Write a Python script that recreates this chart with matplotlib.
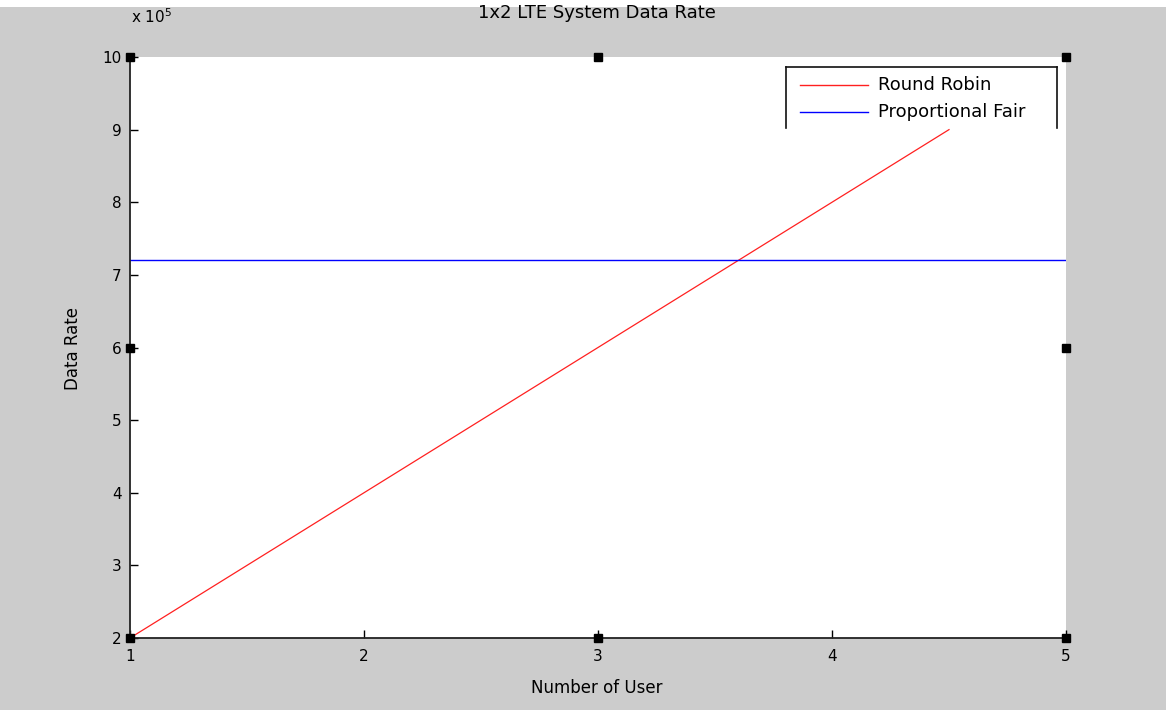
import matplotlib
matplotlib.use("Agg")
import matplotlib.pyplot as plt
from matplotlib.lines import Line2D

# curvas de tasa de datos
users_rr = [1, 4.5]
rate_rr = [2e5, 9e5]
users_pf = [1, 5]
rate_pf = [7.2e5, 7.2e5]
series_names = ["Round Robin", "Proportional Fair"]

x_ticks = [1, 2, 3, 4, 5]
y_ticks = [2e5, 3e5, 4e5, 5e5, 6e5, 7e5, 8e5, 9e5, 10e5]
y_labels = ["2", "3", "4", "5", "6", "7", "8", "9", "10"]

W, H = 1166, 710
plt.rcParams["font.family"] = ["DejaVu Sans"]

fig = plt.figure(figsize=(W / 100, H / 100), dpi=100, facecolor="#cccccc")
# franja blanca superior
fig.patches.append(plt.Rectangle((0, 1 - 7 / H), 1, 7 / H, transform=fig.transFigure,
                                 facecolor="white", edgecolor="none", zorder=0))


def fx(px):
    return px / W


def fy(py):
    return 1 - py / H


L, R, T, B = 130, 1066, 57, 638
ax = fig.add_axes([fx(L), fy(B), (R - L) / W, (B - T) / H])
ax.set_facecolor("white")

ax.plot(users_rr, rate_rr, color="#ff2020", linewidth=0.9)
ax.plot(users_pf, rate_pf, color="#0000ff", linewidth=1.0)

ax.set_xlim(1, 5)
ax.set_ylim(2e5, 10e5)
ax.set_xticks(x_ticks)
ax.set_xticklabels([str(v) for v in x_ticks])
ax.set_yticks(y_ticks)
ax.set_yticklabels(y_labels)
ax.tick_params(direction="in", length=6, width=1, labelsize=11, colors="black")
ax.tick_params(axis="x", pad=8)
ax.tick_params(axis="y", pad=6)
for side in ("top", "right"):
    ax.spines[side].set_visible(False)
for side in ("left", "bottom"):
    ax.spines[side].set_linewidth(1.3)
    ax.spines[side].set_color("#222222")

fig.text(fx(131), fy(17), r"x 10$^{5}$", fontsize=11, ha="left", va="center")

fig.text(fx(597), fy(13), "1x2 LTE System Data Rate", ha="center", va="center",
         fontsize=13)
fig.text(fx(597), fy(688), "Number of User", ha="center", va="center", fontsize=12)
fig.text(fx(73), fy(349), "Data Rate", ha="center", va="center", fontsize=12,
         rotation=90)

# leyenda (recortada por abajo)
lx0, lx1, ly0, ly1 = 786, 1057, 67, 128
for xs, ys in (([lx0, lx1], [ly0, ly0]), ([lx0, lx0], [ly0, ly1]), ([lx1, lx1], [ly0, ly1])):
    fig.add_artist(Line2D([fx(v) for v in xs], [fy(v) for v in ys],
                          transform=fig.transFigure, color="#111111", linewidth=1.2))
for name, color, row in zip(series_names, ["#ff2020", "#0000ff"], [85, 112]):
    fig.add_artist(Line2D([fx(800), fx(868)], [fy(row), fy(row)],
                          transform=fig.transFigure, color=color, linewidth=1.0))
    fig.text(fx(878), fy(row), name, ha="left", va="center", fontsize=13)

# marcas de seleccion del eje
hx = [0, 0.5, 1, 0, 1, 0, 0.5, 1]
hy = [1, 1, 1, 0.5, 0.5, 0, 0, 0]
ax.plot(hx, hy, linestyle="none", marker="s", markersize=6, color="black",
        transform=ax.transAxes, clip_on=False, zorder=5)

fig.savefig("out.png", dpi=100, facecolor=fig.get_facecolor())
